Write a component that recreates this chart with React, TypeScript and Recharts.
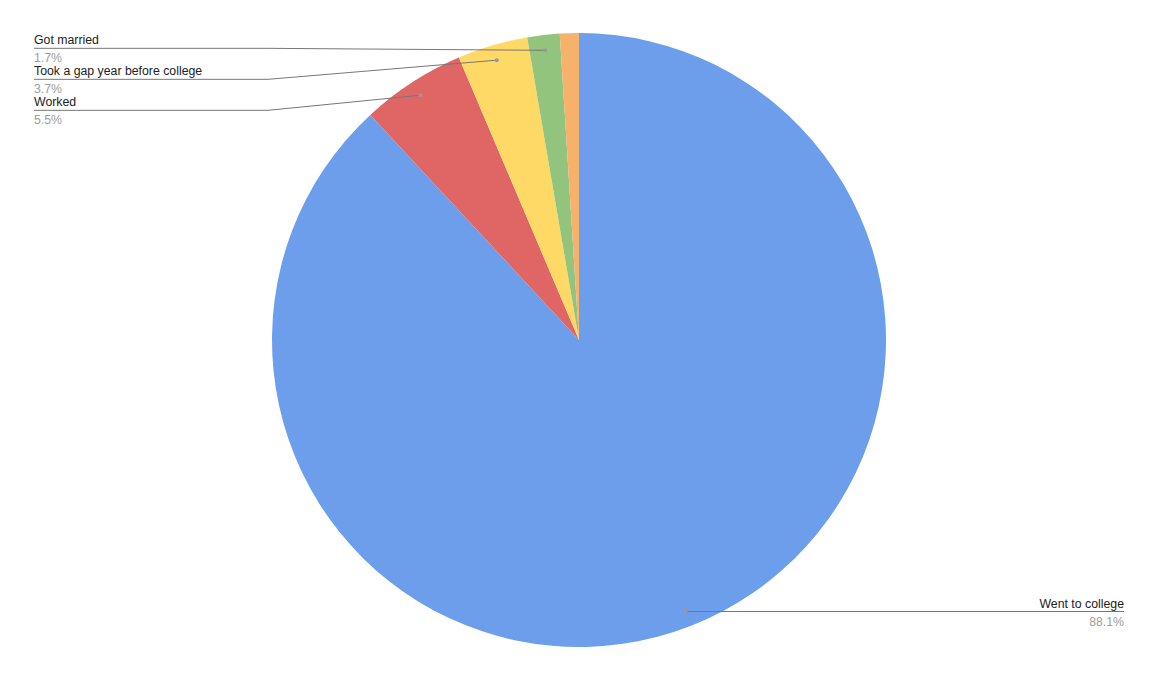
import { PieChart, Pie, Cell } from "recharts";

const categories = ["Went to college", "Worked", "Took a gap year before college", "Got married", "Other"];
const shares = [88.1, 5.5, 3.7, 1.7, 1.0];
const sliceColors = ["#6d9eeb", "#e06666", "#ffd966", "#93c47d", "#f6b26b"];

const data = categories.map((name, i) => ({ name, value: shares[i] }));

const WIDTH = 1159;
const HEIGHT = 681;
const CX = 579;
const CY = 340;
const RADIUS = 307;
const RAD = Math.PI / 180;
const MIN_LABEL = 1.5; // slices smaller than this get no label
const FONT = "Arial, 'Liberation Sans', sans-serif";
const FONT_SIZE = 12.3;

// figure out where the left-hand labels go so they stack without overlapping
const total = shares.reduce((a, b) => a + b, 0);
const labelRows: Record<number, number> = {};
(() => {
  let acc = 0;
  const left: { index: number; y: number }[] = [];
  shares.forEach((v, i) => {
    const mid = 90 - ((acc + v / 2) / total) * 360;
    acc += v;
    if (v < MIN_LABEL) return;
    const x = CX + RADIUS * 0.95 * Math.cos(mid * RAD);
    const y = CY - RADIUS * 0.95 * Math.sin(mid * RAD);
    if (x < CX) left.push({ index: i, y });
    else labelRows[i] = y;
  });
  left.sort((a, b) => a.y - b.y);
  let prev = -Infinity;
  left.forEach((l) => {
    const row = Math.max(l.y - 2, prev + 31);
    labelRows[l.index] = row;
    prev = row;
  });
})();

function SliceLabel(props: any) {
  const { cx, cy, midAngle, outerRadius, index, value, name } = props;
  if (value < MIN_LABEL) return null;
  const r = outerRadius * 0.95;
  const dx = cx + r * Math.cos(-midAngle * RAD);
  const dy = cy + r * Math.sin(-midAngle * RAD);
  const isLeft = dx < cx;
  const lineY = labelRows[index] ?? dy;
  const pct = ((value / total) * 100).toFixed(1) + "%";

  if (isLeft) {
    const textX = 34;
    const elbowX = 268;
    return (
      <g>
        <polyline
          points={`${dx},${dy} ${elbowX},${lineY} ${textX},${lineY}`}
          fill="none"
          stroke="#777777"
          strokeWidth={1}
        />
        <circle cx={dx} cy={dy} r={2} fill="#999999" />
        <text x={textX} y={lineY - 4} fontSize={FONT_SIZE} fill="#222222" fontFamily={FONT}>
          {name}
        </text>
        <text x={textX} y={lineY + 14} fontSize={FONT_SIZE} fill="#9e9e9e" fontFamily={FONT}>
          {pct}
        </text>
      </g>
    );
  }

  const textX = 1124;
  return (
    <g>
      <line x1={dx} y1={lineY} x2={textX} y2={lineY} stroke="#777777" strokeWidth={1} />
      <circle cx={dx} cy={dy} r={2} fill="#999999" />
      <text x={textX} y={lineY - 4} fontSize={FONT_SIZE} fill="#222222" textAnchor="end" fontFamily={FONT}>
        {name}
      </text>
      <text x={textX} y={lineY + 14} fontSize={FONT_SIZE} fill="#9e9e9e" textAnchor="end" fontFamily={FONT}>
        {pct}
      </text>
    </g>
  );
}

export default function App() {
  return (
    <div style={{ width: WIDTH, height: HEIGHT, background: "#ffffff" }}>
      <style>{`body{margin:0}`}</style>
      <PieChart width={WIDTH} height={HEIGHT} margin={{ top: 0, right: 0, bottom: 0, left: 0 }}>
        <Pie
          data={data}
          dataKey="value"
          nameKey="name"
          cx={CX}
          cy={CY}
          outerRadius={RADIUS}
          startAngle={90}
          endAngle={-270}
          stroke="none"
          label={SliceLabel}
          labelLine={false}
          isAnimationActive={false}
        >
          {data.map((d, i) => (
            <Cell key={d.name} fill={sliceColors[i]} />
          ))}
        </Pie>
      </PieChart>
    </div>
  );
}
